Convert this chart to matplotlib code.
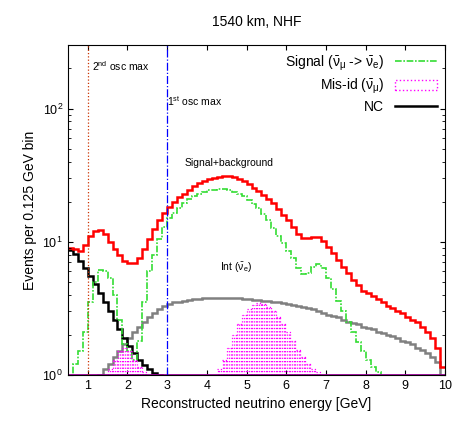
import matplotlib
matplotlib.use("Agg")
import matplotlib.pyplot as plt
import numpy as np
from matplotlib.patches import Patch
from matplotlib.lines import Line2D

plt.rcParams['font.family'] = ['Liberation Sans', 'DejaVu Sans']
plt.rcParams['mathtext.fontset'] = 'custom'
plt.rcParams['mathtext.rm'] = 'Liberation Sans'
plt.rcParams['mathtext.it'] = 'Liberation Sans'

edges = np.arange(0.5, 10.0 + 1e-9, 0.125)

total = [9.0,8.8,8.5,9.5,11,12,12.3,11.5,
         10,8.8,8,7.2,6.9,6.9,7.6,8.8,
         10.5,12.5,14.5,16.5,18.3,20,21.5,23,
         24.5,26,27.5,28.5,29.5,30.2,30.8,31,
         31,30.5,29.5,28.5,27,25.5,24,22.5,
         21,19.5,17.5,16,14.5,13,11.5,10.7,
         10.6,10.9,10.8,10.2,9.2,8.2,7.3,6.5,
         5.8,5.2,4.7,4.3,4.1,3.9,3.7,3.5,
         3.3,3.2,3.0,2.9,2.7,2.6,2.5,2.3,
         2.1,1.9,1.6,1.15]
signal = [0.5,1.2,1.5,2.1,3.5,5,6.1,6,
          5.3,4,2.6,1.7,1.5,1.3,1.8,3.5,
          6,8,10.5,13,15,16.5,18,19.5,
          21,22,23,23.8,24.3,24.6,24.8,24.7,
          24.3,23.7,23,22,20.7,19.3,17.8,16.2,
          14.5,12.7,11,9.7,8.5,7.5,6.4,5.7,
          5.8,6.5,6.8,6.3,5.3,4.4,3.6,3.0,
          2.5,2.1,1.75,1.5,1.3,1.15,1.05,0.95] + [0.5]*12
nc = [8.6,8.1,7.2,6.3,5.5,4.8,4.1,3.5,
      3.0,2.6,2.2,1.9,1.65,1.45,1.3,1.18,
      1.1,1.04,1.0] + [0.5]*57
intr = [0.5]*6 + [1.0,1.1,
        1.2,1.35,1.5,1.7,1.9,2.1,2.3,2.5,
        2.7,2.9,3.1,3.3,3.4,3.5,3.55,3.6,
        3.65,3.7,3.72,3.75,3.77,3.8,3.8,3.8,
        3.8,3.78,3.75,3.72,3.7,3.67,3.64,3.6,
        3.57,3.53,3.5,3.45,3.4,3.35,3.3,3.25,
        3.2,3.1,3.0,2.9,2.8,2.75,2.7,2.6,
        2.5,2.45,2.4,2.3,2.25,2.2,2.1,2.05,
        2.0,1.95,1.9,1.8,1.75,1.7,1.6,1.55,
        1.45,1.35,1.25,0.9]
misid = [0.5]*8 + [1.1,1.3,1.5,1.6,1.5,1.3,1.15,1.05] + [0.5]*14 + [1.1,1.3,
         1.6,2.0,2.4,2.8,3.1,3.35,3.45,3.4,
         3.25,3.0,2.7,2.4,2.1,1.8,1.55,1.35,
         1.2,1.1,1.05] + [0.5]*25

fig = plt.figure(figsize=(4.68, 4.25), dpi=100)
ax = fig.add_axes([0.145, 0.118, 0.806, 0.776])
ax.set_yscale('log')
ax.set_xlim(0.5, 10)
ax.set_ylim(1, 300)

left = edges[:-1]
def st(vals, **kw):
    v = np.array(vals, float)
    ax.stairs(v, edges, baseline=None, **kw)

# mis-id: dotted impulses
mv = np.array(misid)
for i, v in enumerate(mv):
    if v > 1:
        for off in (0.02, 0.0625, 0.105):
            ax.plot([left[i]+off]*2, [1, v], color='magenta', lw=0.9, ls=':')
        ax.plot([left[i], left[i]+0.125], [v, v], color='magenta', lw=0.9, ls=':')

st(intr, color='#808080', lw=1.8)
st(nc, color='black', lw=1.8)
st(signal, color='#33dd33', lw=1.2, ls=(0, (4, 1, 1, 1)))
st(total, color='red', lw=1.8)
ax.axhline(1, color='#990099', lw=2)

ax.axvline(1, color='#cc3300', lw=0.9, ls=':')
ax.axvline(3, color='blue', lw=0.9, ls='-.')
ax.text(1.12, 190, r'2$^{\rm nd}$ osc max', fontsize=7.5)
ax.text(3.0, 105, r'1$^{\rm st}$ osc max', fontsize=7.5)
ax.text(4.55, 37, 'Signal+background', fontsize=7.5, ha='center')
ax.text(4.75, 6.0, r'Int ($\bar{\rm \nu}_{\rm e}$)', fontsize=7.5, ha='center')

handles = [Line2D([], [], color='#33dd33', lw=1.2, ls=(0, (4, 1, 1, 1))),
           Patch(facecolor='none', edgecolor='magenta', ls=':'),
           Line2D([], [], color='black', lw=1.8)]
labels = [r'Signal ($\bar{\rm \nu}_{\rm \mu}$ -> $\bar{\rm \nu}_{\rm e}$)',
          r'Mis-id ($\bar{\rm \nu}_{\rm \mu}$)', 'NC']
ax.legend(handles, labels, loc='upper right', frameon=False, markerfirst=False,
          fontsize=10, handlelength=3, borderaxespad=0.2, labelspacing=0.3)

ax.set_xticks(range(1, 11))
ax.tick_params(which='both', direction='in', top=True, right=True, labelsize=9)
ax.set_yticks([1, 10, 100])
ax.set_yticklabels(['10$^0$', '10$^1$', '10$^2$'])
ax.set_xlabel('Reconstructed neutrino energy [GeV]', fontsize=10)
ax.set_ylabel('Events per 0.125 GeV bin', fontsize=10)
ax.set_title('1540 km, NHF', fontsize=10, pad=14)
fig.savefig('out.png', dpi=100)
